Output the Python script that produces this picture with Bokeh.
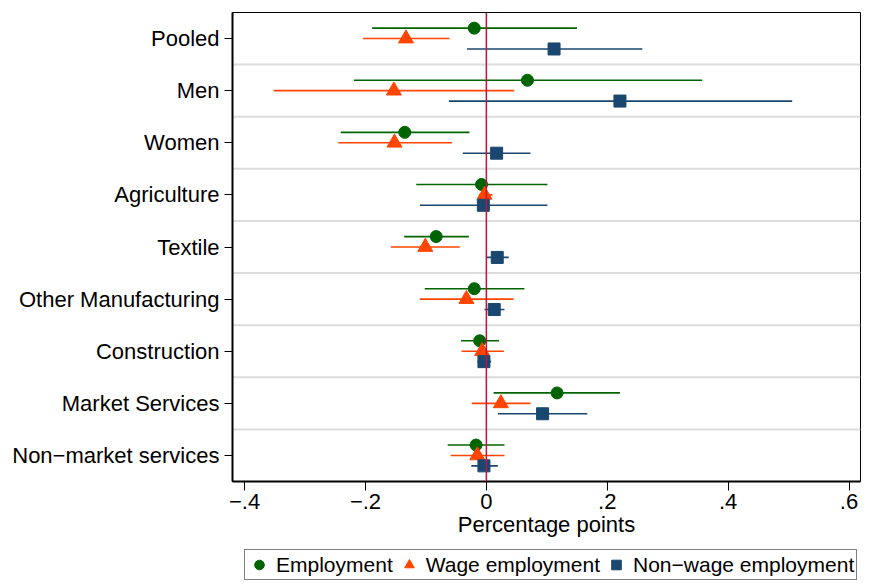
import numpy as np
from bokeh.plotting import figure
from bokeh.layouts import column
from bokeh.models import ColumnDataSource, Range1d, FixedTicker, Span, Legend, LegendItem
from bokeh.embed import file_html
from bokeh.resources import INLINE

categories = ["Pooled", "Men", "Women", "Agriculture", "Textile",
              "Other Manufacturing", "Construction", "Market Services",
              "Non\u2212market services"]

# point estimates and 95% CI bounds
emp_coef = [-0.020, 0.068, -0.135, -0.008, -0.083, -0.020, -0.011, 0.117, -0.017]
emp_lo = [-0.189, -0.219, -0.241, -0.116, -0.136, -0.102, -0.042, 0.012, -0.064]
emp_hi = [0.150, 0.357, -0.028, 0.101, -0.029, 0.063, 0.021, 0.221, 0.030]

wage_coef = [-0.133, -0.153, -0.152, -0.003, -0.101, -0.033, -0.007, 0.024, -0.015]
wage_lo = [-0.204, -0.352, -0.245, -0.012, -0.158, -0.110, -0.041, -0.024, -0.059]
wage_hi = [-0.061, 0.046, -0.057, 0.010, -0.044, 0.045, 0.029, 0.073, 0.030]

nonwage_coef = [0.112, 0.221, 0.017, -0.005, 0.018, 0.013, -0.004, 0.093, -0.004]
nonwage_lo = [-0.032, -0.062, -0.039, -0.110, 0.001, -0.003, -0.015, 0.019, -0.025]
nonwage_hi = [0.258, 0.506, 0.073, 0.101, 0.037, 0.030, 0.008, 0.167, 0.019]

x_ticks = [-0.4, -0.2, 0, 0.2, 0.4, 0.6]
x_tick_labels = ["\u2212.4", "\u2212.2", "0", ".2", ".4", ".6"]

FONT = "Liberation Sans"
FS = "22px"

n = len(categories)
centers = np.arange(n) + 0.5

p = figure(width=867, height=547, output_backend="svg", toolbar_location=None,
           x_range=Range1d(-0.42, 0.619), y_range=Range1d(n, 0),
           min_border_left=232, min_border_right=7, min_border_top=12,
           min_border_bottom=66)
p.xgrid.grid_line_color = None
p.ygrid.grid_line_color = None
p.outline_line_color = "black"
p.outline_line_width = 1
p.background_fill_color = "white"
p.border_fill_color = "white"

# separators between categories
for b in range(1, n):
    p.add_layout(Span(location=b, dimension="width", line_color="#dcdcdc",
                      line_width=2, level="underlay"))

series = [
    ("Employment", emp_coef, emp_lo, emp_hi, -0.2, "#006400", "circle", 12),
    ("Wage employment", wage_coef, wage_lo, wage_hi, 0.0, "#ff4500", "triangle", 15),
    ("Non\u2212wage employment", nonwage_coef, nonwage_lo, nonwage_hi, 0.2, "#1a476f", "square", 12),
]

# separate strip under the chart for the legend (a legend outside the
# frame gets clipped or breaks the layout)
lf = figure(width=867, height=33, output_backend="svg", toolbar_location=None,
            x_range=Range1d(10, 11), y_range=Range1d(10, 11),
            x_axis_type=None, y_axis_type=None,
            min_border_left=0, min_border_right=0, min_border_top=0,
            min_border_bottom=0)
lf.outline_line_color = None
lf.xgrid.grid_line_color = None
lf.ygrid.grid_line_color = None

items = []
for name, coef, lo, hi, off, color, marker, size in series:
    src = ColumnDataSource(data=dict(y=centers + off, coef=coef, lo=lo, hi=hi))
    p.segment(x0="lo", x1="hi", y0="y", y1="y", source=src,
              line_color=color, line_width=1.6)
    p.scatter(x="coef", y="y", source=src, marker=marker, size=size,
              fill_color=color, line_color=color)
    # same points in the legend strip, out of its view; only the key shows
    r = lf.scatter(x="coef", y="y", source=src, marker=marker, size=size,
                   fill_color=color, line_color=color)
    items.append(LegendItem(label=name, renderers=[r]))

p.add_layout(Span(location=0, dimension="height", line_color="#c8103c",
                  line_width=1.5))

p.yaxis.ticker = FixedTicker(ticks=list(centers))
p.yaxis.major_label_overrides = {float(c): lab for c, lab in zip(centers, categories)}
p.yaxis.minor_tick_line_color = None
p.yaxis.major_tick_in = 0
p.yaxis.major_tick_out = 8
p.yaxis.axis_line_width = 2
p.yaxis.major_label_standoff = 5
p.yaxis.major_label_text_font = FONT
p.yaxis.major_label_text_font_size = FS
p.yaxis.major_label_text_color = "black"

p.xaxis.ticker = FixedTicker(ticks=x_ticks)
p.xaxis.major_label_overrides = {t: lab for t, lab in zip(x_ticks, x_tick_labels)}
p.xaxis.minor_tick_line_color = None
p.xaxis.major_tick_in = 0
p.xaxis.major_tick_out = 9
p.xaxis.axis_line_width = 2
p.xaxis.major_label_standoff = 3
p.xaxis.major_label_text_font = FONT
p.xaxis.major_label_text_font_size = FS
p.xaxis.major_label_text_color = "black"
p.xaxis.axis_label = "Percentage points"
p.xaxis.axis_label_text_font = FONT
p.xaxis.axis_label_text_font_size = FS
p.xaxis.axis_label_text_font_style = "normal"
p.xaxis.axis_label_text_color = "black"
p.xaxis.axis_label_standoff = 0

# the column lines the strip's frame up with the chart's frame
legend = Legend(items=items, location=(12, 0), orientation="horizontal",
                border_line_color="black", border_line_width=1,
                background_fill_color="white", background_fill_alpha=1,
                padding=2, spacing=4, margin=0, glyph_width=24, glyph_height=25,
                label_height=20, label_standoff=5, label_text_font=FONT,
                label_text_font_size="21px", label_text_color="black")
lf.add_layout(legend)

layout = column(p, lf, spacing=0)
open("out.html", "w").write(file_html(layout, INLINE))
